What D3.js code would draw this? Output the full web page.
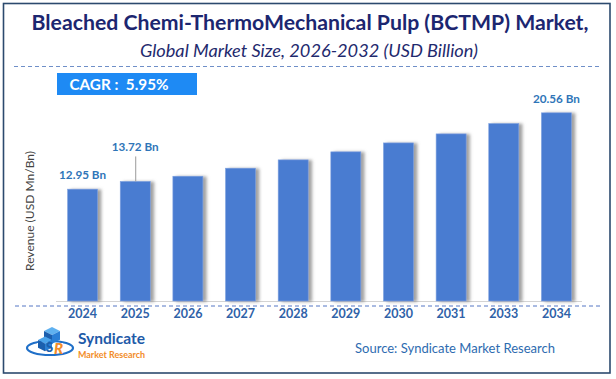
<!DOCTYPE html>
<html>
<head>
<meta charset="utf-8">
<script src="https://cdn.jsdelivr.net/npm/d3@7"></script>
<style>
  html, body { margin: 0; padding: 0; background: #fff; }
  svg { display: block; }
  text { font-family: Lato, "Open Sans", "Noto Sans", sans-serif; }
</style>
</head>
<body>
<div id="chart"></div>
<script>
// ---- data ----
const years = ["2024", "2025", "2026", "2027", "2028", "2029", "2030", "2031", "2033", "2034"];
const revenue = [12.95, 13.72, 14.24, 15.04, 15.87, 16.67, 17.56, 18.46, 19.49, 20.56];
const labelledYears = ["2024", "2025", "2034"];
const labelText = ["12.95 Bn", "13.72 Bn", "20.56 Bn"];
const titleText = "Bleached Chemi-ThermoMechanical Pulp (BCTMP) Market,";
const subtitleText = "Global Market Size, 2026-2032 (USD Billion)";
const cagrText = "CAGR :  5.95%";
const yAxisTitle = "Revenue (USD Mn/Bn)";
const sourceText = "Source: Syndicate Market Research";

const W = 616, H = 379;
const svg = d3.select("#chart").append("svg").attr("width", W).attr("height", H);

const defs = svg.append("defs");
const f = defs.append("filter").attr("id", "shadow").attr("x", "-20%").attr("y", "-10%").attr("width", "160%").attr("height", "120%");
f.append("feDropShadow").attr("dx", 3.5).attr("dy", 0.5).attr("stdDeviation", 1.6)
  .attr("flood-color", "#7a7a7a").attr("flood-opacity", 0.7);

// background + border
svg.append("rect").attr("x", 0).attr("y", 0).attr("width", W).attr("height", H).attr("fill", "#fff");
svg.append("rect").attr("x", 3.5).attr("y", 3.5).attr("width", 606.5).attr("height", 369.5)
  .attr("fill", "none").attr("stroke", "#2c4a6e").attr("stroke-width", 1.6);

// titles
svg.append("text").attr("x", 310).attr("y", 29.5).attr("text-anchor", "middle")
  .attr("font-size", 21.5).attr("font-weight", 700).attr("fill", "#1c2670")
  .attr("textLength", 557).attr("lengthAdjust", "spacingAndGlyphs").text(titleText);
svg.append("text").attr("x", 309).attr("y", 57).attr("text-anchor", "middle")
  .attr("font-size", 17).attr("font-style", "italic").attr("fill", "#1f2a6e")
  .attr("textLength", 338).attr("lengthAdjust", "spacingAndGlyphs").text(subtitleText);

// dashed separators
svg.append("line").attr("x1", 14).attr("x2", 600).attr("y1", 66.5).attr("y2", 66.5)
  .attr("stroke", "#6f8fc8").attr("stroke-width", 1).attr("stroke-dasharray", "4,3");

// CAGR box
svg.append("rect").attr("x", 57).attr("y", 73).attr("width", 140).attr("height", 22).attr("fill", "#1e8af4");
svg.append("text").attr("x", 69.5).attr("y", 89.5).attr("font-size", 16).attr("font-weight", 700)
  .attr("fill", "#fff").attr("textLength", 99).attr("lengthAdjust", "spacingAndGlyphs")
  .attr("xml:space", "preserve").text(cagrText);

// scales
const x = d3.scaleBand().domain(years).range([56, 583]).paddingInner(0.43).paddingOuter(0.22);
const y = d3.scaleLinear().domain([1.8, 21.8]).range([301, 100.4]);

// grey base line
svg.append("line").attr("x1", 56).attr("x2", 582).attr("y1", 301.5).attr("y2", 301.5)
  .attr("stroke", "#d4d4d4").attr("stroke-width", 1.2);

// bars
svg.append("g").selectAll("rect").data(years).join("rect")
  .attr("x", d => x(d)).attr("width", x.bandwidth())
  .attr("y", (d, i) => y(revenue[i])).attr("height", (d, i) => y.range()[0] - y(revenue[i]))
  .attr("fill", "#4a7bd1").attr("stroke", "#7fa2e0").attr("stroke-width", 0.6)
  .attr("filter", "url(#shadow)");

// bottom dashed line
svg.append("line").attr("x1", 15).attr("x2", 601).attr("y1", 306).attr("y2", 306)
  .attr("stroke", "#5577c4").attr("stroke-width", 1).attr("stroke-dasharray", "4,3");

// x axis labels
const xAxis = d3.axisBottom(x).tickSize(0).tickPadding(0);
const gx = svg.append("g").attr("transform", "translate(0,308)").call(xAxis);
gx.select(".domain").remove();
gx.selectAll("text").attr("font-family", "Lato, 'Open Sans', sans-serif")
  .attr("font-size", 12.5).attr("font-weight", 700).attr("fill", "#2f62a8").attr("dy", "0.82em");

// y axis title
svg.append("text").attr("transform", "translate(34,211) rotate(-90)").attr("text-anchor", "middle")
  .attr("font-size", 12).attr("fill", "#444")
  .attr("textLength", 120).attr("lengthAdjust", "spacingAndGlyphs").text(yAxisTitle);

// value labels
const lab = svg.append("g");
labelledYears.forEach((yr, k) => {
  const i = years.indexOf(yr);
  const cx = x(yr) + x.bandwidth() / 2;
  const top = y(revenue[i]);
  const lifted = yr === "2025";
  const by = lifted ? top - 30 : top - 10;
  if (lifted) {
    lab.append("line").attr("x1", cx + 0.5).attr("x2", cx + 0.5).attr("y1", by + 5).attr("y2", top)
      .attr("stroke", "#9a9a9a").attr("stroke-width", 1);
  }
  lab.append("text").attr("x", cx).attr("y", by).attr("text-anchor", "middle")
    .attr("font-size", 12).attr("font-weight", 700).attr("fill", "#2f75b8")
    .attr("textLength", 47).attr("lengthAdjust", "spacingAndGlyphs").text(labelText[k]);
});

// logo
const logo = svg.append("g");
logo.append("ellipse").attr("cx", 50).attr("cy", 348).attr("rx", 23).attr("ry", 7)
  .attr("fill", "none").attr("stroke", "#1f6fc8").attr("stroke-width", 2.2);
logo.append("rect").attr("x", 37).attr("y", 343).attr("width", 26).attr("height", 6).attr("fill", "#fff");
// cubes
const cube = (cx, cy, s, top, side) => {
  logo.append("path").attr("d", `M${cx},${cy} l${s},-${s*0.5} l${s},${s*0.5} l-${s},${s*0.5}z`).attr("fill", top);
  logo.append("path").attr("d", `M${cx},${cy} l${s},${s*0.5} l0,${s*1.1} l-${s},-${s*0.5}z`).attr("fill", side);
  logo.append("path").attr("d", `M${cx+s},${cy+s*0.5} l${s},-${s*0.5} l0,${s*1.1} l-${s},${s*0.5}z`).attr("fill", "#2a7fd6");
};
cube(44, 331, 8, "#5fb1f0", "#1b5fae");
cube(38, 340, 7, "#4aa3ea", "#1b5fae");
logo.append("text").attr("x", 46).attr("y", 352).attr("font-size", 13).attr("font-weight", 900)
  .attr("fill", "#1b5fae").text("S");
logo.append("text").attr("x", 54).attr("y", 354).attr("font-size", 15).attr("font-weight", 900)
  .attr("font-style", "italic").attr("fill", "#f28c28").text("R");
logo.append("text").attr("x", 78).attr("y", 344).attr("font-size", 15).attr("font-weight", 700)
  .attr("fill", "#1e5aa8").attr("textLength", 67).attr("lengthAdjust", "spacingAndGlyphs").text("Syndicate");
logo.append("text").attr("x", 78).attr("y", 357.5).attr("font-size", 9.5).attr("font-weight", 700)
  .attr("fill", "#f28c28").attr("textLength", 67).attr("lengthAdjust", "spacingAndGlyphs").text("Market Research");

// source
svg.append("text").attr("x", 355).attr("y", 352.5).attr("font-size", 14).attr("fill", "#2e6bb0")
  .attr("textLength", 200).attr("lengthAdjust", "spacingAndGlyphs").text(sourceText);
</script>
</body>
</html>
